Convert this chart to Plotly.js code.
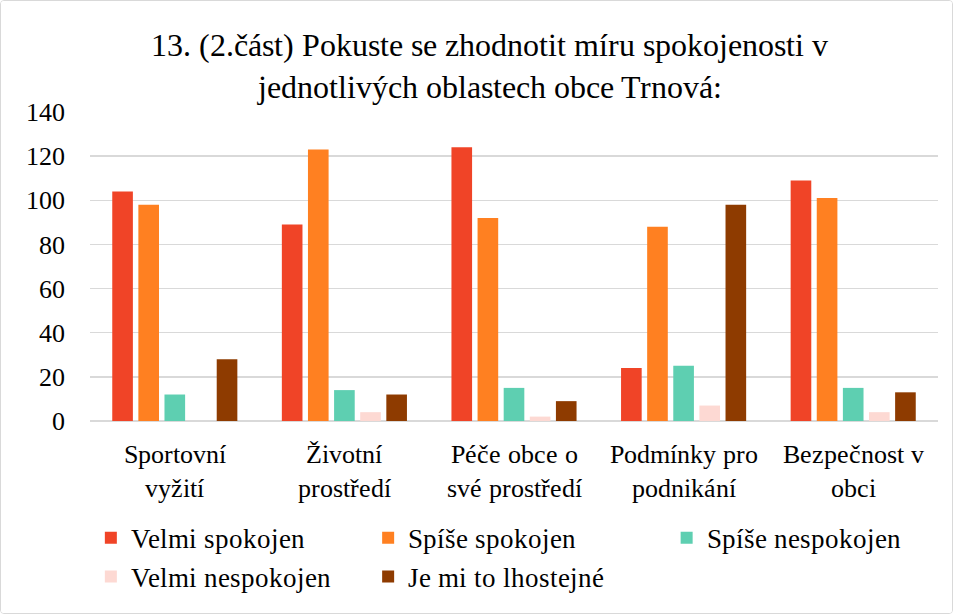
<!DOCTYPE html>
<html>
<head>
<meta charset="utf-8">
<style>
@font-face{font-family:"SerifLocal";src:local("Liberation Serif"),local("LiberationSerif"),local("Liberation Serif Regular"),local("LiberationSerif-Regular"),local("Times New Roman");font-display:swap;}
html,body{margin:0;padding:0;background:#fff;}
#frame{box-sizing:border-box;width:953px;height:614px;border:1px solid #d9d9d9;border-radius:4px;overflow:hidden;}
#chart{width:951px;height:612px;}
</style>
<script src="https://cdn.plot.ly/plotly-3.0.1.min.js"></script>
</head>
<body>
<div id="frame"><div id="chart"></div></div>
<script>
const categories = ["Sportovní<br>vyžití", "Životní<br>prostředí", "Péče obce o<br>své prostředí", "Podmínky pro<br>podnikání", "Bezpečnost v<br>obci"];
const seriesNames = ["Velmi spokojen", "Spíše spokojen", "Spíše nespokojen", "Velmi nespokojen", "Je mi to lhostejné"];
const velmiSpokojen = [104, 89, 124, 24, 109];
const spiseSpokojen = [98, 123, 92, 88, 101];
const spiseNespokojen = [12, 14, 15, 25, 15];
const velmiNespokojen = [0, 4, 2, 7, 4];
const lhostejne = [28, 12, 9, 98, 13];
const colors = ["#F04427", "#FF8021", "#5ECFB1", "#FDD9D3", "#8E3B00"];

const values = [velmiSpokojen, spiseSpokojen, spiseNespokojen, velmiNespokojen, lhostejne];
const FONT = "SerifLocal, Liberation Serif, Times New Roman, serif";
const legendIds = ["legend", "legend2", "legend3", "legend4", "legend5"];
const legendPos = [[0.001, -0.379], [0.328, -0.379], [0.680, -0.379], [0.001, -0.505], [0.328, -0.505]];

const data = values.map((v, i) => ({
  type: "bar",
  name: seriesNames[i],
  x: categories,
  y: v,
  marker: {color: colors[i]},
  legend: legendIds[i],
  hoverinfo: "x+y+name"
}));

const layout = {
  width: 951,
  height: 612,
  paper_bgcolor: "#fff",
  plot_bgcolor: "#fff",
  margin: {l: 89, r: 14, t: 111, b: 190},
  font: {family: FONT, color: "#000", size: 26},
  title: {
    text: "13. (2.část) Pokuste se zhodnotit míru spokojenosti v<br>jednotlivých oblastech obce Trnová:",
    font: {family: FONT, size: 32, color: "#000"},
    x: 0.514, xanchor: "center",
    y: 0.91, yanchor: "top"
  },
  barmode: "group",
  bargap: 0.23,
  bargroupgap: 0.21,
  xaxis: {
    type: "category",
    tickfont: {family: FONT, size: 26, color: "#000"},
    showgrid: false,
    showline: false,
    ticks: "",
    ticklabelstandoff: 15
  },
  yaxis: {
    range: [0, 140],
    dtick: 20,
    tick0: 0,
    gridcolor: "#d9d9d9",
    gridwidth: 1.5,
    zeroline: true,
    zerolinecolor: "#d9d9d9",
    zerolinewidth: 1.5,
    showline: false,
    ticks: "",
    tickfont: {family: FONT, size: 26, color: "#000"},
    ticklabelstandoff: 24
  },
  showlegend: true
};
legendIds.forEach((id, i) => {
  layout[id] = {
    orientation: "v",
    x: legendPos[i][0], xanchor: "left",
    y: legendPos[i][1], yanchor: "middle",
    font: {family: FONT, size: 27, color: "#000"},
    itemwidth: 30,
    bgcolor: "rgba(0,0,0,0)"
  };
});

const cfg = {displayModeBar: false, staticPlot: true};
Plotly.newPlot("chart", data, layout, cfg);
function redraw() { Plotly.react("chart", data, JSON.parse(JSON.stringify(layout)), cfg); }
if (document.fonts && document.fonts.load) {
  document.fonts.load("26px SerifLocal").then(redraw).catch(function(){});
}
setTimeout(redraw, 300);
setTimeout(redraw, 1000);
</script>
</body>
</html>
